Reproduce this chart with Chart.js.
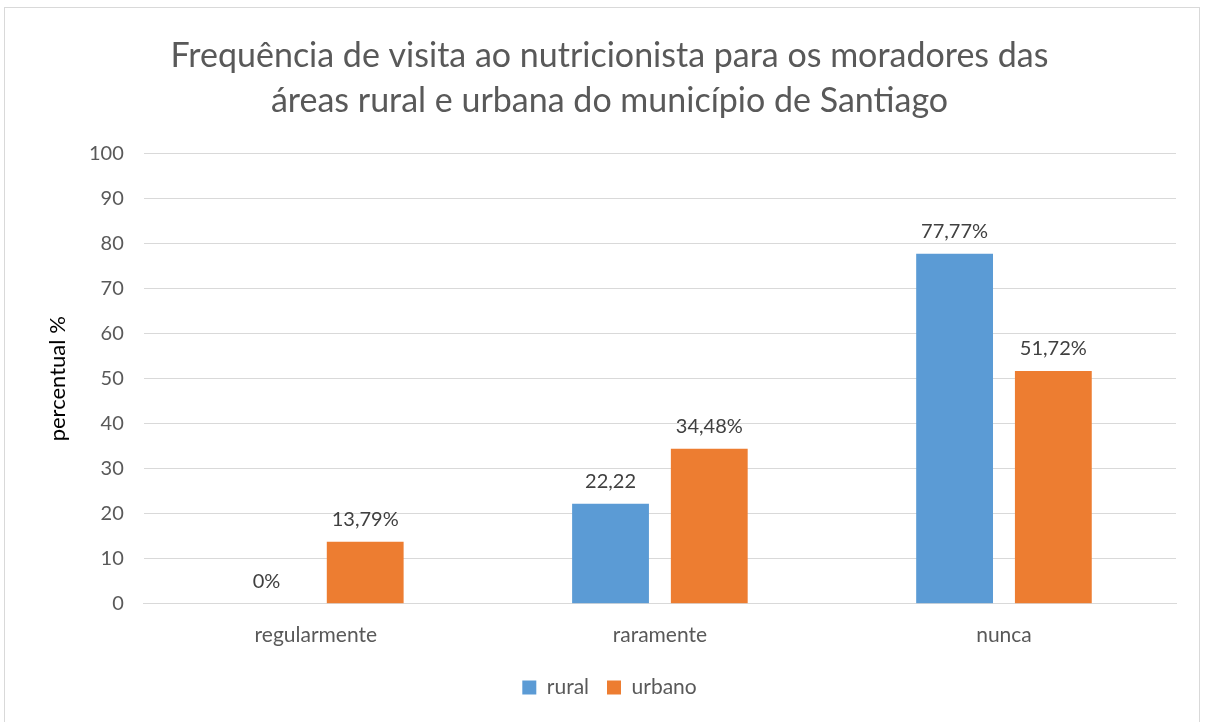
<!DOCTYPE html>
<html>
<head>
<meta charset="utf-8">
<script src="https://cdn.jsdelivr.net/npm/chart.js@4"></script>
<style>
  html, body { margin: 0; padding: 0; background: #fff; }
  #wrap { position: absolute; left: 4px; top: 7px; width: 1196px; height: 720px; border: 1px solid #d9d9d9; box-sizing: border-box; }
  #box { position: absolute; left: 0; top: 0; width: 1206px; height: 722px; }
</style>
</head>
<body>
<div id="wrap"></div>
<div id="box"><canvas id="chart"></canvas></div>
<script>
// categorias e séries
const categorias = ['regularmente', 'raramente', 'nunca'];
const rural = [0, 22.22, 77.77];
const urbano = [13.79, 34.48, 51.72];
const rotulosRural = ['0%', '22,22', '77,77%'];
const rotulosUrbano = ['13,79%', '34,48%', '51,72%'];

const FONTE = "Lato, 'Open Sans', sans-serif";

// desenha os rótulos acima das barras
const rotulosPlugin = {
    id: 'rotulos',
    afterDatasetsDraw(chart) {
        const ctx = chart.ctx;
        const listas = [rotulosRural, rotulosUrbano];
        ctx.save();
        ctx.font = '20px ' + FONTE;
        ctx.fillStyle = '#404040';
        ctx.textAlign = 'center';
        ctx.textBaseline = 'bottom';
        chart.data.datasets.forEach((ds, i) => {
            chart.getDatasetMeta(i).data.forEach((bar, j) => {
                ctx.fillText(listas[i][j], bar.x, bar.y - 12);
            });
        });
        ctx.restore();
    }
};

const ctx = document.getElementById('chart').getContext('2d');
const grafico = new Chart(ctx, {
    type: 'bar',
    data: {
        labels: categorias,
        datasets: [{
            label: 'rural',
            data: rural,
            backgroundColor: '#5b9bd5'
        }, {
            label: 'urbano',
            data: urbano,
            backgroundColor: '#ed7d31'
        }]
    },
    options: {
        responsive: true,
        maintainAspectRatio: false,
        animation: false,
        categoryPercentage: 0.574,
        barPercentage: 0.778,
        layout: { padding: { left: 43, right: 30, top: 14, bottom: 14 } },
        plugins: {
            title: {
                display: true,
                text: ['Frequência de visita ao nutricionista para os moradores das', 'áreas rural e urbana do município de Santiago'],
                font: { family: FONTE, size: 34, weight: 'normal', lineHeight: 1.32 },
                color: '#595959',
                padding: { top: 20, bottom: 30 }
            },
            legend: {
                position: 'bottom',
                labels: {
                    font: { family: FONTE, size: 21 },
                    color: '#595959',
                    boxWidth: 14,
                    boxHeight: 14,
                    padding: 18
                }
            },
            tooltip: { enabled: false }
        },
        scales: {
            x: {
                grid: { display: false },
                border: { color: '#d9d9d9' },
                ticks: { font: { family: FONTE, size: 21 }, color: '#595959', padding: 11 }
            },
            y: {
                min: 0,
                max: 100,
                ticks: { stepSize: 10, font: { family: FONTE, size: 20 }, color: '#595959', padding: 20 },
                grid: { color: '#d9d9d9', drawTicks: false },
                border: { display: false },
                title: {
                    display: true,
                    text: 'percentual %',
                    font: { family: FONTE, size: 22, lineHeight: 1.0 },
                    color: '#000',
                    padding: { top: 4, bottom: 0 }
                }
            }
        }
    },
    plugins: [rotulosPlugin]
});
</script>
</body>
</html>
